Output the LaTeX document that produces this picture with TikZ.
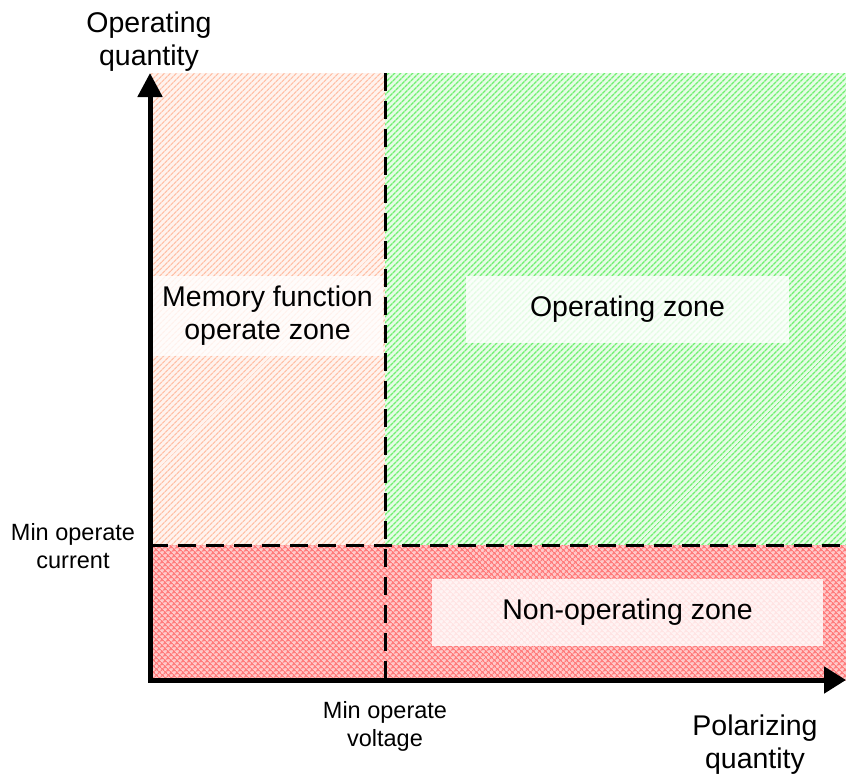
\documentclass[tikz,border=0pt]{standalone}
\usepackage{fontspec}
\setmainfont{Liberation Sans}
\usetikzlibrary{arrows.meta,patterns.meta}
\definecolor{peachbg}{HTML}{FFF3EE}
\definecolor{peachline}{HTML}{FFC0A6}
\definecolor{greenbg}{HTML}{E6FCE6}
\definecolor{greenline}{HTML}{70F070}
\definecolor{redbg}{HTML}{FFCCCC}
\definecolor{redline}{HTML}{FF7C7C}
\tikzset{
  bigtxt/.style={font=\fontsize{28.5}{33}\selectfont, align=center, inner sep=0pt},
  smalltxt/.style={font=\fontsize{23.5}{28}\selectfont, align=center, inner sep=0pt},
  zonebox/.style={bigtxt, fill=white, fill opacity=0.8, text opacity=1},
  peachzone/.style={preaction={fill=peachbg}, pattern={Lines[angle=45,distance=4pt,line width=1.3pt]}, pattern color=peachline},
  greenzone/.style={preaction={fill=greenbg}, pattern={Lines[angle=45,distance=4pt,line width=1.4pt]}, pattern color=greenline},
  redzone/.style={preaction={fill=redbg}, pattern={Hatch[angle=45,distance=4pt,line width=1.3pt]}, pattern color=redline},
  limitline/.style={line width=3pt, dash pattern=on 18pt off 10pt},
  axisline/.style={line width=5pt, line join=miter, {Triangle[length=24pt,width=24pt]}-{Triangle[length=22pt,width=26pt]}}
}
\begin{document}
\begin{tikzpicture}[x=1pt,y=-1pt]
\useasboundingbox (0,0) rectangle (846,780);
% zones
\path[peachzone] (150,73) rectangle (385,545);
\path[greenzone] (385,73) rectangle (846,545);
\path[redzone] (150,545) rectangle (846,680);
% zone labels
\node[zonebox, minimum width=231pt, minimum height=80pt] (mem) at (267.5,316) {Memory function\\operate zone};
\node[zonebox, minimum width=323pt, minimum height=67pt] (op) at (627.5,309.5) {Operating zone};
\node[zonebox, minimum width=391pt, minimum height=67pt] (nonop) at (627.5,612.5) {Non-operating zone};
% limit lines
\coordinate (vtop) at (385,73);
\coordinate (vbot) at (385,680);
\coordinate (hleft) at (150,545);
\coordinate (hright) at (846,545);
\draw[limitline] (vtop) -- (vbot);
\draw[limitline] (hleft) -- (hright);
% axes
\coordinate (O) at (150,680);
\coordinate (ytip) at (150,73);
\coordinate (xtip) at (846,680);
\draw[axisline] (ytip) -- (O) -- (xtip);
% axis labels
\node[bigtxt] (ylab) at (149,42) {Operating\\quantity};
\node[bigtxt] (xlab) at (755,745) {Polarizing\\quantity};
\node[smalltxt] (cur) at (73,546.5) {Min operate\\current};
\node[smalltxt] (volt) at (385,726.5) {Min operate\\voltage};
\end{tikzpicture}
\end{document}
